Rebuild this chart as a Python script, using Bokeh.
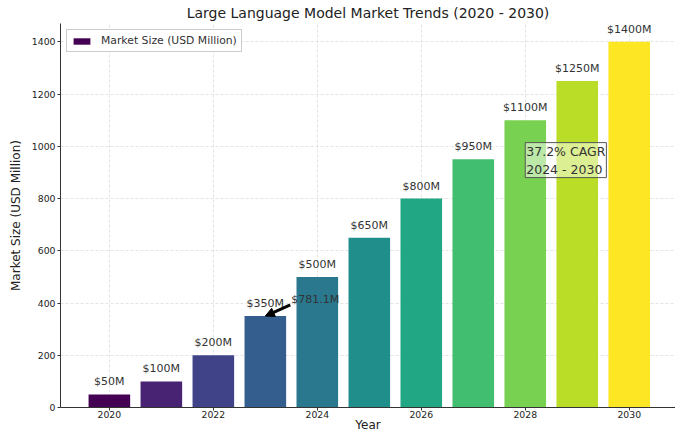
from bokeh.plotting import figure
from bokeh.models import (Range1d, LegendItem, Legend, Label, Arrow, NormalHead,
                          ColumnDataSource, FixedTicker, Title)
from bokeh.core.properties import value
from bokeh.palettes import Viridis256, linear_palette
from bokeh.embed import file_html
from bokeh.resources import INLINE

years = [2020, 2021, 2022, 2023, 2024, 2025, 2026, 2027, 2028, 2029, 2030]
market_size = [50, 100, 200, 350, 500, 650, 800, 950, 1100, 1250, 1400]
bar_labels = ["$%dM" % v for v in market_size]
x_ticks = [2020, 2022, 2024, 2026, 2028, 2030]
y_ticks = [0, 200, 400, 600, 800, 1000, 1200, 1400]
annot_text = "$781.1M"
annot_text_pos = (2023.5, 388)
annot_target = (2023.0, 350)
cagr_text = "37.2% CAGR\n2024 - 2030"
cagr_pos = (2028.0, 880)

colors = linear_palette(Viridis256, len(years))
FONT = "DejaVu Sans"

src = ColumnDataSource(dict(x=years, top=market_size, label=bar_labels, color=colors))

p = figure(width=675, height=434, output_backend="svg", toolbar_location=None,
           x_range=Range1d(2019.06, 2030.89), y_range=Range1d(0, 1470),
           min_border_left=60, min_border_right=0, min_border_top=0, min_border_bottom=0)

p.title = Title(text="Large Language Model Market Trends (2020 - 2030)", align="center",
                text_font=FONT, text_font_size="14px", text_font_style="normal",
                text_color="#222222", standoff=5)

r = p.vbar(x="x", top="top", width=0.8, fill_color="color", line_color=None, source=src)

p.text(x="x", y="top", text="label", source=src, text_align="center", text_baseline="bottom",
       y_offset=-6, text_font_size="11px", text_font=value(FONT), text_color="#333333")

# arrow annotation
p.add_layout(Arrow(end=NormalHead(size=9, fill_color="black", line_color="black"),
                   x_start=annot_text_pos[0] - 0.02, y_start=annot_text_pos[1] + 5,
                   x_end=annot_target[0], y_end=annot_target[1],
                   line_color="black", line_width=3))
p.add_layout(Label(x=annot_text_pos[0], y=annot_text_pos[1], text=annot_text,
                   text_font=FONT, text_font_size="11px", text_color="#333333",
                   text_baseline="bottom", text_align="left"))

p.add_layout(Label(x=cagr_pos[0], y=cagr_pos[1], text=cagr_text, text_font=FONT,
                   text_font_size="12.5px", text_color="#333333", text_align="left",
                   text_baseline="bottom", background_fill_color="white",
                   background_fill_alpha=0.5, border_line_color="#555555",
                   border_line_width=1, padding=1))

legend = Legend(items=[LegendItem(label="Market Size (USD Million)", renderers=[r], index=0)],
                location="top_left", label_text_font=FONT, label_text_font_size="10.8px",
                label_text_color="#333333", glyph_width=21, glyph_height=8,
                border_line_color="#cccccc", border_line_alpha=1, margin=6, padding=4,
                spacing=0, label_standoff=9, label_height=10)
p.add_layout(legend)

for ax in (p.xaxis, p.yaxis):
    ax.axis_line_color = "#333333"
    ax.major_tick_line_color = "#333333"
    ax.major_tick_out = 3
    ax.major_tick_in = 0
    ax.minor_tick_line_color = None
    ax.major_label_text_font = FONT
    ax.major_label_text_font_size = "9.3px"
    ax.major_label_text_color = "#222222"
    ax.axis_label_text_font = FONT
    ax.axis_label_text_font_size = "12px"
    ax.axis_label_text_font_style = "normal"
    ax.axis_label_text_color = "#222222"
    ax.major_label_standoff = 2
    ax.axis_label_standoff = 0

p.yaxis.axis_label_standoff = 6
p.xaxis.major_label_standoff = 0
p.xaxis.axis_label_standoff = -3
p.xaxis.ticker = FixedTicker(ticks=x_ticks)
p.yaxis.ticker = FixedTicker(ticks=y_ticks)
p.xaxis.axis_label = "Year"
p.yaxis.axis_label = "Market Size (USD Million)"

p.xgrid.ticker = FixedTicker(ticks=x_ticks)
p.grid.grid_line_color = "#d8d8d8"
p.grid.grid_line_dash = "3 2"
p.grid.grid_line_width = 0.7
p.outline_line_color = None
p.background_fill_color = "white"

open("out.html", "w").write(file_html(p, INLINE))
